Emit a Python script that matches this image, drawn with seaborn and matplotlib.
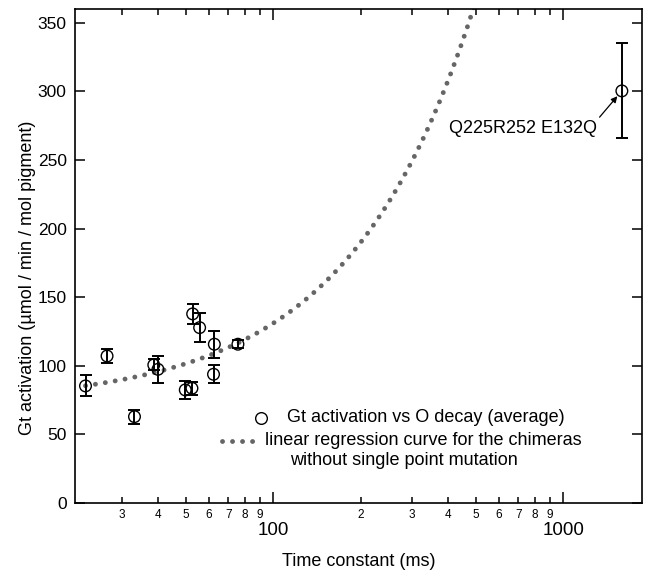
import numpy as np
import matplotlib
matplotlib.use('Agg')
import matplotlib.pyplot as plt
import seaborn as sns
from matplotlib.ticker import FixedLocator, FuncFormatter, MultipleLocator, NullLocator

# values
tau_ms = [22.5, 26.7, 33.2, 38.7, 40.0, 49.7, 52.4, 52.7, 55.7, 62.6, 62.2, 75.5, 1594]
gt_act = [85.3, 107.1, 62.9, 100.6, 97.4, 82.4, 83.6, 137.8, 127.8, 115.7, 93.8, 115.7, 300.3]
gt_err = [7.7, 5.1, 5.1, 4.0, 9.7, 6.7, 4.9, 7.5, 10.3, 9.7, 6.7, 3.0, 34.6]

# linear regression (chimeras without single point mutation)
reg_intercept = 72.2
reg_slope = 0.588

mutant_label = 'Q225R252 E132Q'
legend_points = 'Gt activation vs O decay (average)'
legend_line1 = 'linear regression curve for the chimeras'
legend_line2 = 'without single point mutation'

sns.set_theme(style='ticks')
plt.rcParams['font.family'] = ['Liberation Sans', 'DejaVu Sans']
plt.rcParams['text.color'] = 'black'
plt.rcParams['axes.labelcolor'] = 'black'
plt.rcParams['xtick.color'] = 'black'
plt.rcParams['ytick.color'] = 'black'
plt.rcParams['axes.linewidth'] = 1.2

fig, ax = plt.subplots(figsize=(6.45, 5.73), dpi=100)
fig.subplots_adjust(left=0.1163, right=0.9953, bottom=0.1222, top=0.9843)
ax.set_xscale('log')
ax.set_xlim(20.7, 1870)
ax.set_ylim(0, 360)

dot_style = dict(color='#666666', lw=3.5, linestyle=(0, (0.01, 2.05)),
                 dash_capstyle='round')

x_fit = np.geomspace(min(tau_ms), 1870, 400)
sns.lineplot(x=x_fit, y=reg_intercept + reg_slope * x_fit, ax=ax,
             sort=False, estimator=None, **dot_style)

ax.errorbar(tau_ms, gt_act, yerr=gt_err, fmt='none', ecolor='black',
            elinewidth=1.4, capsize=4, capthick=1.4, zorder=3)
sns.scatterplot(x=tau_ms, y=gt_act, ax=ax, marker='o', s=70,
                facecolor='none', edgecolor='black', linewidth=1.0, zorder=4)

# ticks
ax.xaxis.set_major_locator(FixedLocator([100, 1000]))
ax.xaxis.set_major_formatter(FuncFormatter(lambda v, p: f'{v:g}'))
minor = [m * 10 ** e for e in (1, 2, 3) for m in range(2, 10)]
ax.xaxis.set_minor_locator(FixedLocator(minor))
ax.xaxis.set_minor_formatter(
    FuncFormatter(lambda v, p: str(int(round(v / 10 ** np.floor(np.log10(v) + 1e-9))))))
ax.yaxis.set_major_locator(MultipleLocator(50))
ax.yaxis.set_minor_locator(NullLocator())

ax.tick_params(which='both', direction='in', top=True, right=True,
               width=1.1, color='black', labelcolor='black')
ax.tick_params(axis='x', which='major', length=8, pad=14, labelsize=13.5)
ax.tick_params(axis='x', which='minor', length=4.5, pad=4, labelsize=8.5)
ax.tick_params(axis='y', which='major', length=7, pad=6, labelsize=12.5)

for s in ax.spines.values():
    s.set_color('black')
    s.set_linewidth(1.2)

ax.set_xlabel('Time constant (ms)', fontsize=13, color='black')
ax.set_ylabel('Gt activation (\u00b5mol / min / mol pigment)', fontsize=13, color='black')
ax.xaxis.set_label_coords(0.5, -0.101)
ax.yaxis.set_label_coords(-0.068, 0.455)

# annotation of the point mutant
ax.annotate(mutant_label, xy=(tau_ms[-1], gt_act[-1]), xytext=(1306, 272.6),
            ha='right', va='center', fontsize=13, color='black',
            arrowprops=dict(arrowstyle='-|>', color='black', lw=0.9,
                            shrinkA=0, shrinkB=5, relpos=(1, 1),
                            mutation_scale=9))

# legend drawn by hand to keep the original layout
ax.plot([0.3275], [0.1715], 'o', ms=8.4, mfc='none', mec='black', mew=1.0,
        transform=ax.transAxes)
ax.text(0.3734, 0.1721, legend_points, transform=ax.transAxes,
        fontsize=13, va='center', ha='left', color='black')
ax.plot([0.2593, 0.3298], [0.1261, 0.1261], transform=ax.transAxes, **dot_style)
ax.text(0.3351, 0.1261, legend_line1, transform=ax.transAxes,
        fontsize=13, va='center', ha='left', color='black')
ax.text(0.3792, 0.0870, legend_line2, transform=ax.transAxes,
        fontsize=13, va='center', ha='left', color='black')

fig.savefig('out.png', dpi=100)
